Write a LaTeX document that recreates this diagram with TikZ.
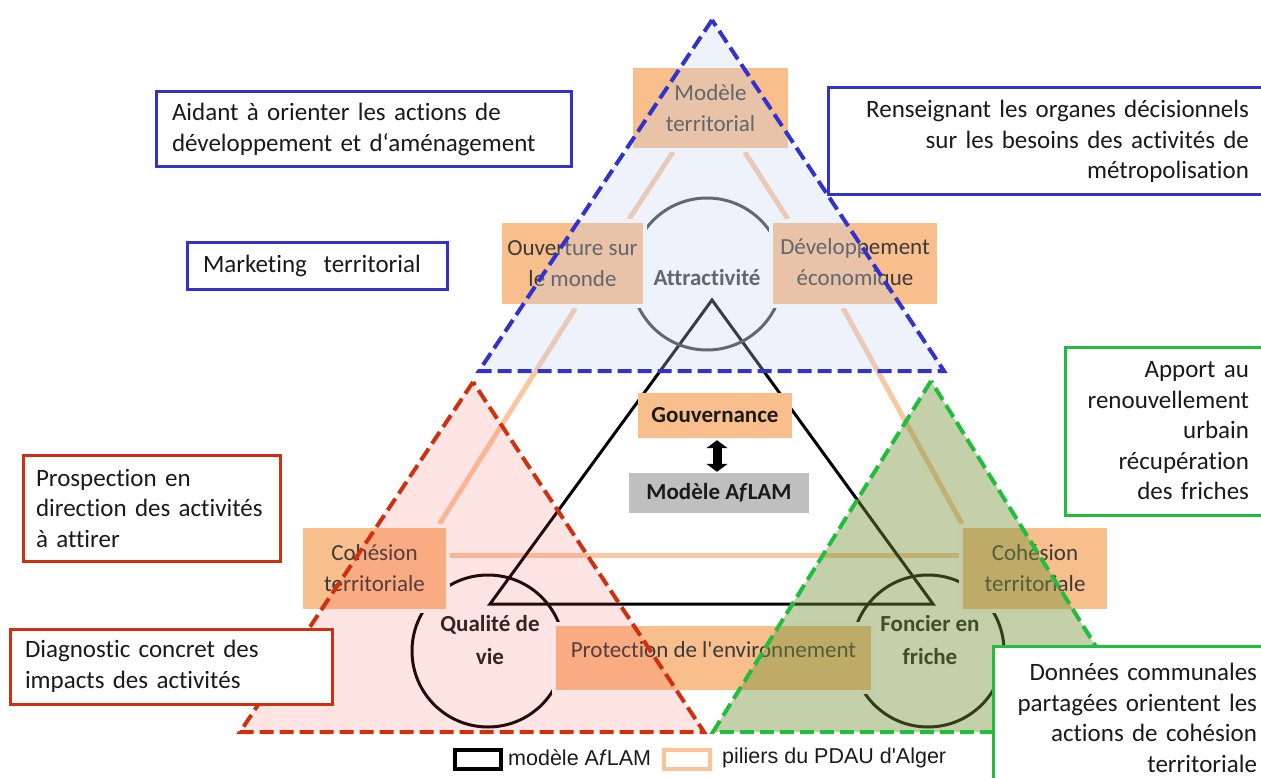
\documentclass[tikz,border=0pt]{standalone}
\usepackage{fontspec}
\setmainfont{Carlito}[Ligatures={TeX,NoCommon}]
\newfontfamily\arialf{Liberation Sans}
\usetikzlibrary{calc,arrows.meta}
\definecolor{bluec}{RGB}{51,51,204}
\definecolor{redc}{RGB}{208,48,16}
\definecolor{greenc}{RGB}{32,190,60}
\definecolor{pill}{RGB}{248,190,140}
\definecolor{pline}{RGB}{249,200,162}
\definecolor{legor}{RGB}{250,196,152}
\definecolor{graybox}{RGB}{191,191,191}
\definecolor{bluefill}{RGB}{196,210,238}
\definecolor{redfill}{RGB}{255,75,75}
\definecolor{greenfill}{RGB}{118,146,57}
\definecolor{ptext}{RGB}{58,58,58}
\definecolor{btext}{RGB}{26,26,26}
\begin{document}
\begin{tikzpicture}[x=1pt,y=-1pt,
  pillar/.style={fill=pill, draw=white, line width=4pt, text=ptext, align=center,
    font=\fontsize{23}{31}\selectfont, inner sep=0pt},
  plink/.style={draw=pline, line width=5pt},
  ctext/.style={font=\bfseries\fontsize{23}{33}\selectfont, align=center, inner sep=0pt},
  tbox/.style={fill=white, line width=3pt, font=\fontsize{25}{30.5}\selectfont,
    inner ysep=0pt, text=btext},
  tri/.style={line width=4pt, dash pattern=on 14pt off 6pt},
  legtext/.style={font=\arialf\fontsize{21.5}{24}\selectfont, inner sep=0pt, anchor=west, text=btext}
]
\useasboundingbox (0,0) rectangle (1261,778);
\clip (0,0) rectangle (1261,778);

% pillar box positions
\path
  node[pillar, minimum width=159, minimum height=84] (mt) at (710.5,108) {Modèle\\territorial}
  node[pillar, minimum width=145, minimum height=85] (ouv) at (572.5,263.5) {Ouverture sur\\le monde}
  node[pillar, minimum width=168, minimum height=85] (dev) at (855,263.5) {Développement\\économique}
  node[pillar, minimum width=147, minimum height=85] (cohL) at (374.5,568.5) {Cohésion\\territoriale}
  node[pillar, minimum width=148, minimum height=85] (cohR) at (1035,568.5) {Cohésion\\territoriale};

% connectors between pillars
\draw[plink] ($(mt.south west)!0.27!(mt.south east)$) -- ($(ouv.north west)!0.88!(ouv.north east)$);
\draw[plink] ($(mt.south west)!0.71!(mt.south east)$) -- ($(dev.north west)!0.11!(dev.north east)$);
\draw[plink] ($(ouv.south west)!0.52!(ouv.south east)$) -- ($(cohL.north west)!0.93!(cohL.north east)$);
\draw[plink] ($(dev.south west)!0.43!(dev.south east)$) -- ($(cohR.north west)!0.02!(cohR.north east)$);
\draw[plink] ($(cohL.east)+(0,-13)$) -- ($(cohR.west)+(0,-13)$);

% black triangle (modele AfLAM)
\coordinate (ba) at (712,300);
\coordinate (bl) at (490,604);
\coordinate (br) at (933,604);
\draw[line width=3pt, black, line join=miter] (ba) -- (bl) -- (br) -- cycle;

% circles
\draw[line width=3pt, draw={rgb,255:red,60;green,60;blue,60}] (707,274) circle[radius=76pt];
\draw[line width=3pt, black] (488,651) circle[radius=76pt];
\draw[line width=3pt, black] (928,651) circle[radius=76pt];

% pillar boxes on top
\node[pillar, minimum width=159, minimum height=84] at (mt) {Modèle\\territorial};
\node[pillar, minimum width=145, minimum height=85] at (ouv) {Ouverture sur\\le monde};
\node[pillar, minimum width=168, minimum height=85] at (dev) {Développement\\économique};
\node[pillar, minimum width=147, minimum height=85] at (cohL) {Cohésion\\territoriale};
\node[pillar, minimum width=148, minimum height=85] at (cohR) {Cohésion\\territoriale};
\node[pillar, minimum width=319, minimum height=68] (prot) at (713.5,658) {};
\node[text=ptext, font=\fontsize{23}{31}\selectfont, inner sep=0pt] (prottxt) at ($(prot.center)+(0,-8)$) {Protection de l\textquotesingle environnement};

% central texts
\node[ctext, text=ptext] (attr) at (707,278) {Attractivité};
\node[ctext, text=btext] (qual) at (490,640) {Qualité de\\vie};
\node[ctext, text=btext] (fonc) at (930,640) {Foncier en\\friche};

% governance
\node[fill=pill, minimum width=154, minimum height=45, inner sep=0pt, ctext, text=btext] (gov) at (715,415.5) {Gouvernance};
\node[fill=graybox, minimum width=180, minimum height=40, inner sep=0pt, ctext, text=btext] (aflam) at (719,493) {Modèle A\textit{f}LAM};
\draw[line width=9pt, {Triangle[width=21pt,length=8pt]}-{Triangle[width=21pt,length=8pt]}]
  ($(gov.south)+(2,2)$) -- ($(aflam.north)+(-2,-1)$);

% coloured triangles
\coordinate (ta) at (712,20);  \coordinate (tl) at (479,371); \coordinate (tr) at (944,371);
\coordinate (ra) at (473,382); \coordinate (rl) at (240,732); \coordinate (rr) at (704,732);
\coordinate (ga) at (931,381); \coordinate (gl) at (713,732); \coordinate (gr) at (1149,732);
\fill[bluefill, fill opacity=0.29] (ta) -- (tl) -- (tr) -- cycle;
\draw[tri, bluec] (ta) -- (tl) -- (tr) -- cycle;
\fill[redfill, fill opacity=0.15] (ra) -- (rl) -- (rr) -- cycle;
\draw[tri, redc] (ra) -- (rl) -- (rr) -- cycle;
\fill[greenfill, fill opacity=0.43] (ga) -- (gl) -- (gr) -- cycle;
\draw[tri, greenc] (ga) -- (gl) -- (gr) -- cycle;

% text boxes
\node[tbox, draw=bluec, inner xsep=16pt, text width=383pt, align=left, minimum height=75] (aid) at (363.5,129.5)
  {Aidant à orienter les actions de\\développement et d‘aménagement};
\node[tbox, draw=bluec, inner xsep=16pt, text width=228pt, align=left, minimum height=46] (mkt) at (317,266)
  {Marketing\ \ territorial};
\node[tbox, draw=bluec, inner xsep=17pt, text width=404pt, align=right, minimum height=107] (ren) at (1047,141.5)
  {Renseignant les organes décisionnels\\sur les besoins des activités de\\métropolisation};
\node[tbox, draw=redc, inner xsep=13pt, text width=231pt, align=left, minimum height=106] (pros) at (151.5,508)
  {Prospection en\\direction des activités\\à attirer};
\node[tbox, draw=redc, inner xsep=15pt, text width=292pt, align=left, minimum height=75] (diag) at (171,666.5)
  {Diagnostic concret des\\impacts des activités};
\node[tbox, draw=greenc, inner xsep=17pt, text width=167pt, align=right, minimum height=168] (app) at (1165.5,431)
  {Apport au\\renouvellement\\urbain\\récupération\\des friches};
\node[tbox, draw=greenc, inner xsep=9pt, text width=255pt, align=right, minimum height=144] (don) at (1129.5,718)
  {Données communales\\partagées orientent les\\actions de cohésion\\territoriale};

% legend
\node[draw=black, line width=4pt, minimum width=46, minimum height=19, inner sep=0pt] (lg1) at (477.5,759) {};
\node[legtext] (lg1t) at (508,758) {modèle A\textit{f}LAM};
\node[draw=legor, line width=4pt, minimum width=46, minimum height=19, inner sep=0pt] (lg2) at (687,759) {};
\node[legtext] (lg2t) at (722,758) {piliers du PDAU d\textquotesingle Alger};
\end{tikzpicture}
\end{document}
